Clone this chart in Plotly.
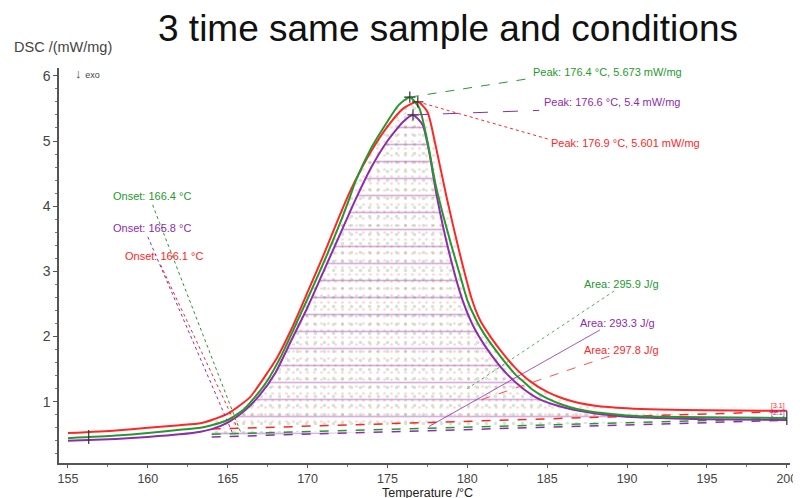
import plotly.graph_objects as go

# ---------------- data ----------------
temp_green = [155, 158, 160, 162, 163.3, 164, 165, 166, 166.7, 167.5, 168.3, 169.2, 170, 171, 172, 172.65, 173, 174, 175, 175.7, 176.4,
              177, 177.5, 178, 178.5, 179, 179.5, 180, 180.5, 181, 182, 183, 183.6, 184, 185, 186, 187, 188, 190, 192, 195, 200]
dsc_green = [0.44, 0.48, 0.52, 0.57, 0.60, 0.64, 0.72, 0.88, 1.07, 1.33, 1.68, 2.15, 2.58, 3.13, 3.72, 4.14, 4.38, 4.90, 5.30, 5.55, 5.673,
             5.50, 5.00, 4.35, 3.85, 3.40, 2.98, 2.56, 2.28, 2.06, 1.72, 1.42, 1.29, 1.20, 1.05, 0.95, 0.88, 0.84, 0.79, 0.77, 0.76, 0.75]

temp_purple = [155, 158, 160, 162, 163.3, 164, 165, 166, 167, 168, 169, 170, 171, 172, 173, 174, 175, 176, 176.6,
               177.2, 177.6, 178.1, 178.8, 179.7, 180.5, 181.5, 182.5, 183.5, 184.5, 185.5, 187, 188, 190, 192, 195, 200]
dsc_purple = [0.40, 0.43, 0.46, 0.50, 0.54, 0.58, 0.68, 0.85, 1.10, 1.45, 1.95, 2.45, 3.00, 3.55, 4.10, 4.60, 5.00, 5.30, 5.40,
              5.25, 4.85, 4.14, 3.35, 2.56, 2.10, 1.72, 1.42, 1.20, 1.04, 0.95, 0.86, 0.82, 0.77, 0.75, 0.73, 0.72]

temp_red = [155, 158, 160, 162, 163.3, 164, 165.1, 166.4, 167, 167.5, 168.1, 169, 170, 171, 172, 172.5, 173, 174, 175, 176, 176.9,
            177.5, 178, 178.7, 179.5, 180.3, 180.8, 181.5, 182.2, 183, 183.9, 185, 186, 187, 188, 190, 192, 195, 200]
dsc_red = [0.52, 0.56, 0.60, 0.64, 0.67, 0.72, 0.83, 1.07, 1.27, 1.45, 1.68, 2.12, 2.68, 3.25, 3.85, 4.14, 4.40, 4.85, 5.22, 5.50, 5.601,
           5.45, 4.95, 4.14, 3.30, 2.56, 2.25, 1.98, 1.75, 1.52, 1.32, 1.15, 1.05, 0.98, 0.94, 0.90, 0.88, 0.87, 0.86]

baseline_temp = [164.0, 200.0]
baseline_green = [0.50, 0.745]
baseline_purple = [0.46, 0.715]
baseline_red = [0.58, 0.85]

peak_temp = {"green": 176.4, "purple": 176.6, "red": 176.9}
peak_val = {"green": 5.673, "purple": 5.4, "red": 5.601}
onset_temp = {"green": 166.4, "purple": 165.8, "red": 166.1}
area_val = {"green": 295.9, "purple": 293.3, "red": 297.8}

x_ticks = [155, 160, 165, 170, 175, 180, 185, 190, 195, 200]
y_ticks = [1, 2, 3, 4, 5, 6]

GREEN = "#26992e"
PURPLE = "#8e2cab"
RED = "#ff2626"

fig = go.Figure()

runs = [
    ("purple", temp_purple, dsc_purple, baseline_purple, PURPLE,
     dict(shape="-", size=17, solidity=0.1, fgcolor="rgba(142,44,171,0.75)", bgcolor="rgba(0,0,0,0)")),
    ("green", temp_green, dsc_green, baseline_green, GREEN,
     dict(shape=".", size=9, solidity=0.12, fgcolor="rgba(38,153,46,0.45)", bgcolor="rgba(0,0,0,0)")),
    ("red", temp_red, dsc_red, baseline_red, RED,
     dict(shape=".", size=7, solidity=0.12, fgcolor="rgba(255,38,38,0.4)", bgcolor="rgba(0,0,0,0)")),
]

# hatched areas between baseline and curves
for name, t, d, b, col, pat in runs:
    seg_t = [x for x in t if baseline_temp[0] <= x <= baseline_temp[1]]
    seg_d = [y for x, y in zip(t, d) if baseline_temp[0] <= x <= baseline_temp[1]]
    fig.add_trace(go.Scatter(x=baseline_temp, y=b, mode="lines",
                             line=dict(color=col, width=1.5, dash="dash"),
                             showlegend=False, hoverinfo="skip"))
    fig.add_trace(go.Scatter(x=seg_t, y=seg_d, mode="lines", line=dict(width=0),
                             fill="tonexty", fillcolor="rgba(0,0,0,0)", fillpattern=pat,
                             showlegend=False, hoverinfo="skip"))

# curves
for name, t, d, b, col, pat in [runs[0], runs[2], runs[1]]:
    fig.add_trace(go.Scatter(x=t, y=d, mode="lines", line=dict(color=col, width=2, shape="spline", smoothing=0.6),
                             name=name, showlegend=False))

# peak markers
fig.add_trace(go.Scatter(x=list(peak_temp.values()), y=list(peak_val.values()), mode="markers",
                         marker=dict(symbol="cross-thin", size=8, line=dict(color="#333", width=1.2)),
                         showlegend=False, hoverinfo="skip"))
# start / end markers
fig.add_trace(go.Scatter(x=[temp_green[0] + 1.3, temp_green[-1]], y=[dsc_green[0] + 0.02, dsc_green[-1]],
                         mode="markers",
                         marker=dict(symbol="line-ns", size=10, line=dict(color="#333", width=1.2)),
                         showlegend=False, hoverinfo="skip"))

shapes = []
annotations = []
colmap = {"green": GREEN, "purple": PURPLE, "red": RED}
LBL = 11

# peak labels and leaders
peak_label_pos = {"green": (184.0, 6.06), "purple": (184.7, 5.6), "red": (185.1, 4.97)}
peak_line_end = {"green": (184.2, 5.97), "purple": (184.5, 5.47), "red": (185.2, 5.02)}
peak_dash = {"green": "dash", "purple": "longdash", "red": "dot"}
for k in ["green", "purple", "red"]:
    ex, ey = peak_line_end[k]
    shapes.append(dict(type="line", x0=peak_temp[k], y0=peak_val[k], x1=ex, y1=ey,
                       line=dict(color=colmap[k], width=1, dash=peak_dash[k])))
    lx, ly = peak_label_pos[k]
    annotations.append(dict(x=lx, y=ly, text=f"Peak: {peak_temp[k]} °C, {peak_val[k]} mW/mg",
                            xanchor="left", yanchor="middle", showarrow=False,
                            font=dict(size=LBL, color=colmap[k], family="Arial")))

# onset labels and leaders
onset_label_pos = {"green": (157.7, 4.16), "purple": (157.7, 3.66), "red": (158.45, 3.24)}
onset_line = {"green": ((160.3, 4.02), (165.8, 0.54)),
              "purple": ((160.0, 3.53), (165.3, 0.52)),
              "red": ((160.8, 3.10), (165.6, 0.60))}
for k in ["green", "purple", "red"]:
    (x0, y0), (x1, y1) = onset_line[k]
    shapes.append(dict(type="line", x0=x0, y0=y0, x1=x1, y1=y1,
                       line=dict(color=colmap[k], width=1, dash="dot")))
    lx, ly = onset_label_pos[k]
    annotations.append(dict(x=lx, y=ly, text=f"Onset: {onset_temp[k]} °C",
                            xanchor="left", yanchor="middle", showarrow=False,
                            font=dict(size=LBL, color=colmap[k], family="Arial")))

# area labels and leaders
area_label_pos = {"green": (187.2, 2.80), "purple": (186.9, 2.21), "red": (187.2, 1.79)}
area_line = {"green": ((189.2, 2.70), (180.0, 1.20)),
             "purple": ((188.3, 2.10), (177.6, 0.62)),
             "red": ((188.9, 1.70), (180.5, 1.0))}
area_dash = {"green": "dot", "purple": "solid", "red": "dash"}
for k in ["green", "purple", "red"]:
    (x0, y0), (x1, y1) = area_line[k]
    shapes.append(dict(type="line", x0=x0, y0=y0, x1=x1, y1=y1,
                       line=dict(color=colmap[k], width=0.8, dash=area_dash[k])))
    lx, ly = area_label_pos[k]
    annotations.append(dict(x=lx, y=ly, text=f"Area: {area_val[k]} J/g",
                            xanchor="left", yanchor="middle", showarrow=False,
                            font=dict(size=LBL, color=colmap[k], family="Arial")))

annotations += [
    dict(xref="paper", yref="paper", x=0.532, y=1.0, yshift=40, text="3 time same sample and conditions",
         showarrow=False, xanchor="center", yanchor="middle",
         font=dict(size=37, color="#111", family="Arial")),
    dict(xref="paper", yref="paper", x=-0.064, y=1.0, yshift=21, text="DSC /(mW/mg)",
         showarrow=False, xanchor="left", yanchor="middle",
         font=dict(size=14.5, color="#444", family="Arial")),
    dict(xref="paper", yref="y", x=0.0, xshift=14, y=6.04, text="↓ <span style='font-size:9px'>exo</span>",
         showarrow=False, xanchor="left", yanchor="middle",
         font=dict(size=13, color="#444", family="Arial")),
    dict(xref="paper", yref="paper", x=0.504, y=0, yshift=-29.5, text="Temperature /°C",
         showarrow=False, xanchor="center", yanchor="middle",
         font=dict(size=12.5, color="#222", family="Arial")),
    dict(xref="x", yref="y", x=200, y=0.93, text="[3.1]", showarrow=False, xanchor="right",
         font=dict(size=7, color=RED, family="Arial")),
    dict(xref="x", yref="y", x=200, y=0.82, text="[2.1]", showarrow=False, xanchor="right",
         font=dict(size=7, color=PURPLE, family="Arial")),
]

fig.update_layout(
    width=801, height=498,
    margin=dict(l=51, r=19, t=60, b=43),
    paper_bgcolor="white", plot_bgcolor="white",
    shapes=shapes, annotations=annotations,
    font=dict(family="Arial", size=13, color="#444"),
)
fig.update_xaxes(range=[154.44, 200.2], tickvals=x_ticks, showline=True, linecolor="#555", linewidth=1.5,
                 ticks="outside", ticklen=3, tickcolor="#555", showgrid=False, zeroline=False,
                 tickfont=dict(size=12.5, color="#444"),
                 minor=dict(dtick=2.5, tick0=155, ticks="outside", ticklen=2, tickcolor="#777"))
fig.update_yaxes(range=[0.06, 6.12], tickvals=y_ticks, showline=True, linecolor="#555", linewidth=1.5,
                 ticks="outside", ticklen=4, tickcolor="#555", showgrid=False, zeroline=False,
                 tickfont=dict(size=14, color="#444"),
                 minor=dict(dtick=0.2, tick0=0, ticks="outside", ticklen=2, tickcolor="#777"))

fig.write_html("out.html")
